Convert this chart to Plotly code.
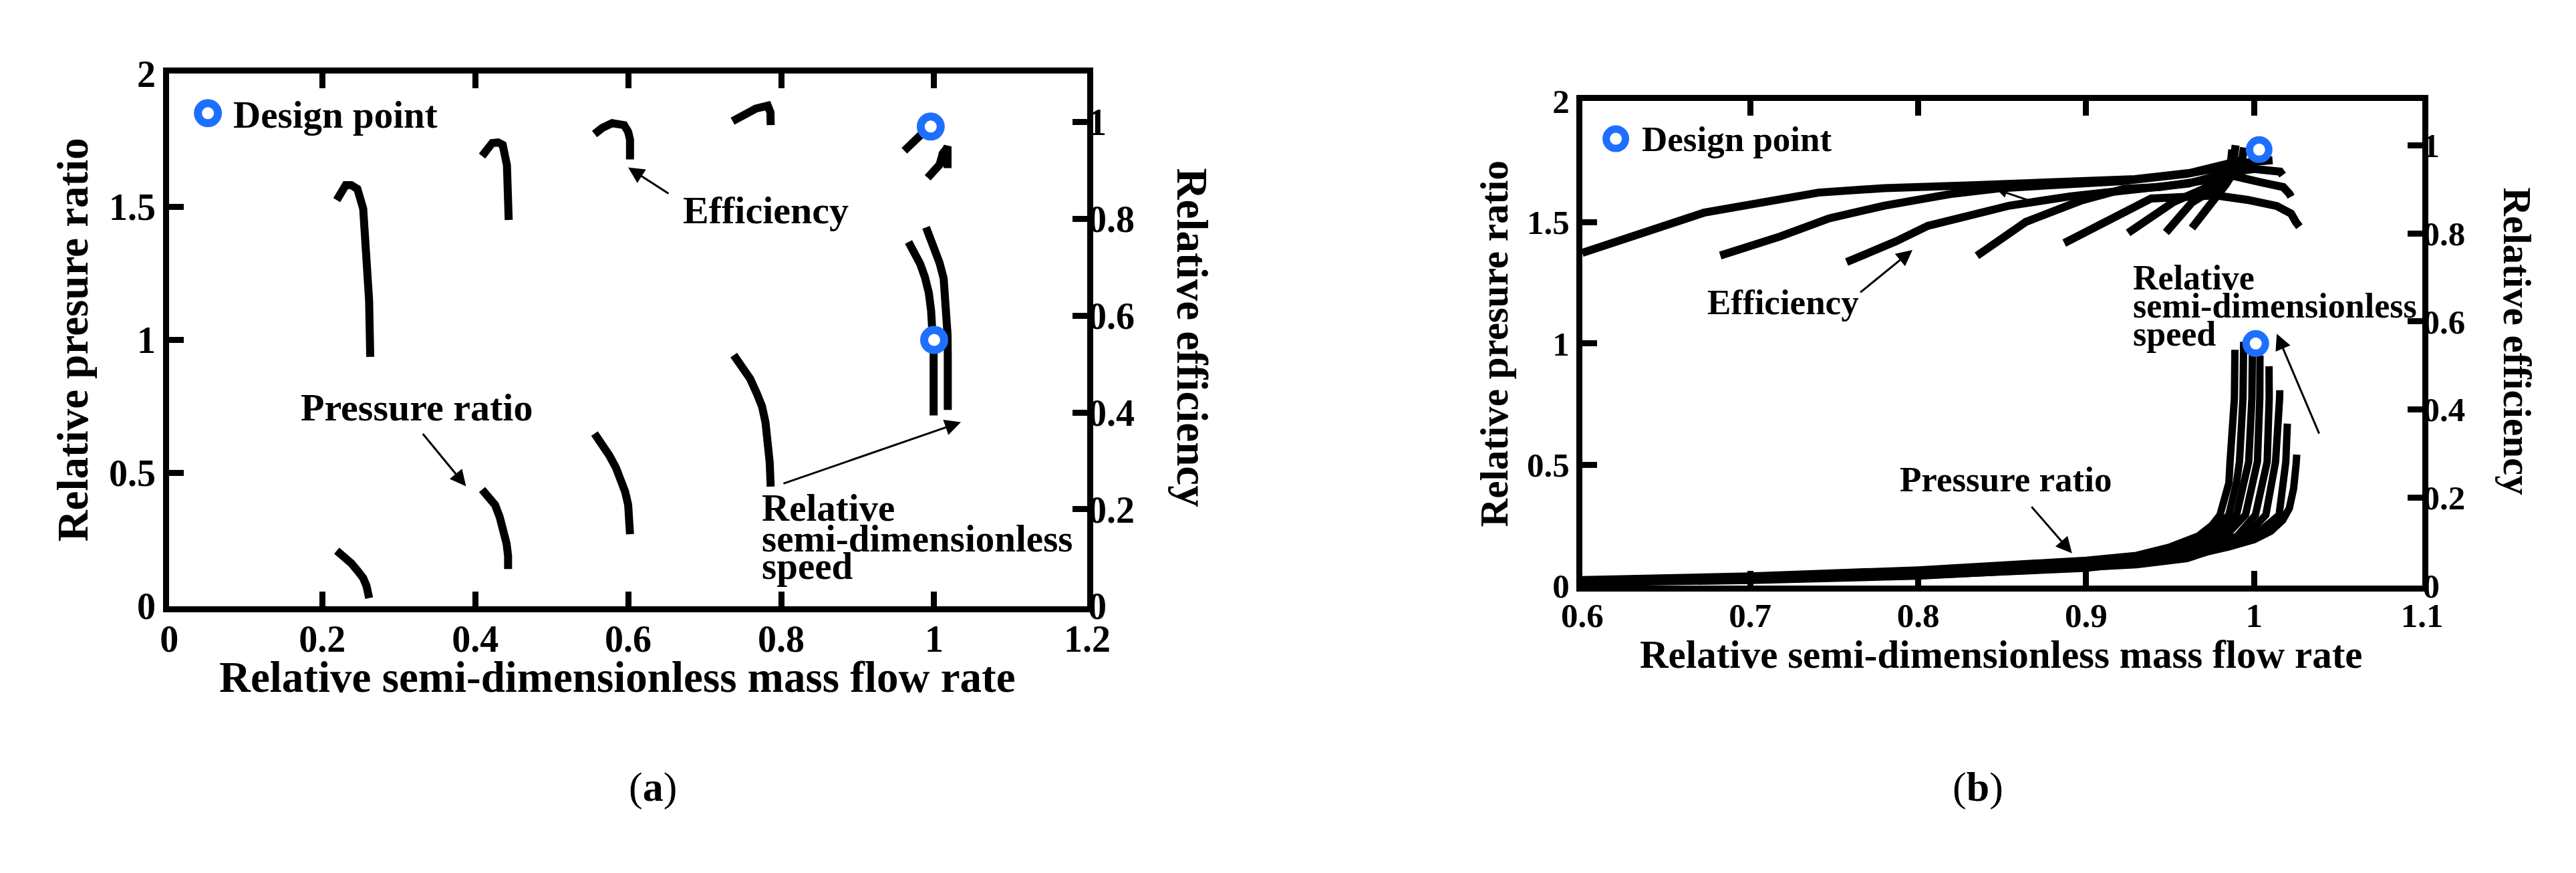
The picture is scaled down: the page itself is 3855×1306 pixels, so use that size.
import plotly.graph_objects as go

# ---------------- Panel (a) data ----------------
A_PR1_X = [0.219, 0.229, 0.2383, 0.247, 0.2536, 0.258, 0.2613]
A_PR1_Y = [0.208, 0.185, 0.160, 0.130, 0.105, 0.075, 0.030]
A_PR2_X = [0.409, 0.418, 0.426, 0.432, 0.4376, 0.441, 0.443, 0.443]
A_PR2_Y = [0.438, 0.410, 0.380, 0.335, 0.284, 0.235, 0.188, 0.139]
A_PR3_X = [0.556, 0.566, 0.5755, 0.584, 0.591, 0.596, 0.600, 0.6018, 0.6024]
A_PR3_Y = [0.648, 0.607, 0.565, 0.520, 0.476, 0.430, 0.380, 0.330, 0.270]
A_PR4_X = [0.738, 0.749, 0.7595, 0.768, 0.775, 0.7795, 0.7825, 0.785, 0.7863]
A_PR4_Y = [0.943, 0.900, 0.854, 0.800, 0.750, 0.690, 0.627, 0.540, 0.449]
A_PR5_X = [0.9665, 0.974, 0.9817, 0.988, 0.993, 0.996, 0.998, 0.9993, 0.9993, 0.9993]
A_PR5_Y = [1.368, 1.330, 1.286, 1.235, 1.177, 1.110, 1.039, 0.950, 0.874, 0.716]
A_PR6_X = [0.9894, 0.995, 1.0009, 1.007, 1.0124, 1.0163, 1.0175, 1.0178, 1.0178]
A_PR6_Y = [1.423, 1.385, 1.341, 1.290, 1.231, 1.108, 1.020, 0.943, 0.737]

A_EF1_X = [0.219, 0.226, 0.2307, 0.238, 0.246, 0.2536, 0.2575, 0.2613, 0.2628]
A_EF1_Y = [0.839, 0.862, 0.870, 0.870, 0.862, 0.821, 0.745, 0.632, 0.515]
A_EF2_X = [0.409, 0.415, 0.4223, 0.430, 0.436, 0.4415, 0.443, 0.4438]
A_EF2_Y = [0.930, 0.945, 0.957, 0.958, 0.953, 0.911, 0.860, 0.798]
A_EF3_X = [0.556, 0.566, 0.579, 0.5947, 0.600, 0.6024, 0.6024]
A_EF3_Y = [0.9755, 0.988, 0.998, 0.994, 0.980, 0.964, 0.923]
A_EF4_X = [0.7365, 0.750, 0.767, 0.7825, 0.786, 0.7863]
A_EF4_Y = [1.002, 1.014, 1.028, 1.034, 1.020, 0.994]
A_EF5_X = [0.961, 0.972, 0.985, 0.990]
A_EF5_Y = [0.941, 0.956, 0.975, 0.985]
A_EF6_X = [0.9915, 0.998, 1.003, 1.007, 1.0095, 1.011, 1.016, 1.0175, 1.0175]
A_EF6_Y = [0.885, 0.896, 0.905, 0.912, 0.925, 0.935, 0.945, 0.950, 0.905]

A_DESIGN_PR = (1.0, 1.0)
A_DESIGN_EF = (0.9955, 0.991)

A_X_TICKS = [0, 0.2, 0.4, 0.6, 0.8, 1.0, 1.2]
A_X_LABELS = ["0", "0.2", "0.4", "0.6", "0.8", "1", "1.2"]
A_Y_TICKS = [0, 0.5, 1.0, 1.5, 2.0]
A_Y_LABELS = ["0", "0.5", "1", "1.5", "2"]
A_Y2_TICKS = [0, 0.2, 0.4, 0.6, 0.8, 1.0]
A_Y2_LABELS = ["0", "0.2", "0.4", "0.6", "0.8", "1"]

# ---------------- Panel (b) data ----------------
B_PR_X = [
    [0.60, 0.70, 0.80, 0.90, 0.93, 0.95, 0.9668, 0.975, 0.9797, 0.985, 0.9857, 0.9883, 0.9886],
    [0.60, 0.70, 0.80, 0.90, 0.93, 0.95, 0.972, 0.985, 0.9895, 0.9913, 0.9934, 0.9938],
    [0.60, 0.70, 0.80, 0.90, 0.93, 0.96, 0.977, 0.9895, 0.9941, 0.9968, 0.9987, 0.999],
    [0.60, 0.70, 0.80, 0.90, 0.93, 0.96, 0.983, 0.9949, 0.9992, 1.002, 1.0034, 1.0035],
    [0.60, 0.70, 0.80, 0.90, 0.93, 0.96, 0.990, 1.0008, 1.0051, 1.0078, 1.009, 1.0089],
    [0.60, 0.70, 0.80, 0.90, 0.93, 0.96, 0.995, 1.007, 1.0109, 1.0128, 1.0152, 1.0153],
    [0.60, 0.70, 0.80, 0.90, 0.93, 0.96, 1.000, 1.0149, 1.0176, 1.0189, 1.0198],
    [0.60, 0.70, 0.80, 0.90, 0.93, 0.96, 0.985, 1.000, 1.010, 1.017, 1.021, 1.0235, 1.025, 1.0254],
]
B_PR_Y = [
    [0.025, 0.040, 0.065, 0.105, 0.125, 0.160, 0.205, 0.250, 0.292, 0.424, 0.512, 0.774, 0.974],
    [0.022, 0.037, 0.060, 0.098, 0.118, 0.145, 0.205, 0.292, 0.424, 0.512, 0.774, 1.007],
    [0.020, 0.034, 0.056, 0.092, 0.110, 0.150, 0.205, 0.292, 0.424, 0.512, 0.774, 0.990],
    [0.018, 0.031, 0.052, 0.087, 0.104, 0.140, 0.205, 0.292, 0.424, 0.512, 0.774, 0.950],
    [0.016, 0.028, 0.048, 0.082, 0.098, 0.130, 0.205, 0.292, 0.424, 0.512, 0.774, 0.906],
    [0.014, 0.025, 0.044, 0.077, 0.092, 0.120, 0.205, 0.292, 0.424, 0.512, 0.774, 0.807],
    [0.012, 0.022, 0.040, 0.072, 0.087, 0.112, 0.205, 0.292, 0.424, 0.512, 0.669],
    [0.012, 0.024, 0.042, 0.072, 0.095, 0.120, 0.160, 0.190, 0.225, 0.270, 0.320, 0.400, 0.500, 0.541],
]

B_EF_X = [
    [0.6, 0.6725, 0.7407, 0.7797, 0.8317, 0.8967, 0.9292, 0.9617, 0.9877, 0.989],
    [0.6822, 0.718, 0.747, 0.780, 0.819, 0.848, 0.874, 0.920, 0.960, 0.985, 0.998, 1.011],
    [0.7574, 0.787, 0.8057, 0.839, 0.8545, 0.891, 0.926, 0.961, 0.985, 1.000, 1.0155, 1.017],
    [0.835, 0.8642, 0.8967, 0.9227, 0.944, 0.970, 0.988, 1.005, 1.0173, 1.021, 1.022],
    [0.887, 0.9387, 0.977, 0.996, 1.0135, 1.022, 1.025, 1.027],
    [0.925, 0.952, 0.970, 0.979, 0.986, 0.987],
    [0.9475, 0.963, 0.979, 0.987, 0.993, 0.994],
    [0.963, 0.9757, 0.983, 0.988],
]
B_EF_Y = [
    [0.7555, 0.8468, 0.8925, 0.9025, 0.909, 0.9157, 0.923, 0.937, 0.961, 1.0],
    [0.7497, 0.793, 0.834, 0.863, 0.889, 0.902, 0.908, 0.918, 0.935, 0.955, 0.962, 0.966],
    [0.7347, 0.782, 0.817, 0.849, 0.863, 0.884, 0.898, 0.913, 0.938, 0.946, 0.940, 0.932],
    [0.749, 0.826, 0.874, 0.901, 0.905, 0.922, 0.930, 0.915, 0.905, 0.890, 0.883],
    [0.778, 0.879, 0.886, 0.876, 0.862, 0.845, 0.825, 0.815],
    [0.801, 0.871, 0.901, 0.925, 0.955, 0.990],
    [0.802, 0.870, 0.908, 0.940, 0.970, 0.995],
    [0.812, 0.870, 0.910, 0.940],
]

B_DESIGN_PR = (1.001, 1.0)
B_DESIGN_EF = (1.003, 0.990)

B_X_TICKS = [0.6, 0.7, 0.8, 0.9, 1.0, 1.1]
B_X_LABELS = ["0.6", "0.7", "0.8", "0.9", "1", "1.1"]
B_Y_TICKS = [0, 0.5, 1.0, 1.5, 2.0]
B_Y_LABELS = ["0", "0.5", "1", "1.5", "2"]
B_Y2_TICKS = [0, 0.2, 0.4, 0.6, 0.8, 1.0]
B_Y2_LABELS = ["0", "0.2", "0.4", "0.6", "0.8", "1"]

# ---------------- styling ----------------
W, H = 3855, 1306
FONT = "Liberation Serif"
BLUE = "#1f6fff"
BLACK = "#000000"
LW_A = 12
LW_B = 12


def px_x(p):
    return p / W


def px_y(p):
    return 1 - p / H


fig = go.Figure()

# panel (a) curves
for xs, ys in [(A_PR1_X, A_PR1_Y), (A_PR2_X, A_PR2_Y), (A_PR3_X, A_PR3_Y),
               (A_PR4_X, A_PR4_Y), (A_PR5_X, A_PR5_Y), (A_PR6_X, A_PR6_Y)]:
    fig.add_trace(go.Scatter(x=xs, y=ys, mode="lines", xaxis="x", yaxis="y",
                             line=dict(color=BLACK, width=LW_A), showlegend=False,
                             hoverinfo="skip"))
for xs, ys in [(A_EF1_X, A_EF1_Y), (A_EF2_X, A_EF2_Y), (A_EF3_X, A_EF3_Y),
               (A_EF4_X, A_EF4_Y), (A_EF5_X, A_EF5_Y), (A_EF6_X, A_EF6_Y)]:
    fig.add_trace(go.Scatter(x=xs, y=ys, mode="lines", xaxis="x", yaxis="y2",
                             line=dict(color=BLACK, width=LW_A), showlegend=False,
                             hoverinfo="skip"))

# panel (b) curves
for xs, ys in zip(B_PR_X, B_PR_Y):
    fig.add_trace(go.Scatter(x=xs, y=ys, mode="lines", xaxis="x2", yaxis="y3",
                             line=dict(color=BLACK, width=LW_B - 1), showlegend=False,
                             hoverinfo="skip"))
for xs, ys in zip(B_EF_X, B_EF_Y):
    fig.add_trace(go.Scatter(x=xs, y=ys, mode="lines", xaxis="x2", yaxis="y4",
                             line=dict(color=BLACK, width=LW_B), showlegend=False,
                             hoverinfo="skip"))

# design points
ring_a = dict(symbol="circle", size=30, color="white", line=dict(color=BLUE, width=12))
ring_b = dict(symbol="circle", size=29, color="white", line=dict(color=BLUE, width=11))
fig.add_trace(go.Scatter(x=[A_DESIGN_PR[0]], y=[A_DESIGN_PR[1]], mode="markers",
                         xaxis="x", yaxis="y", marker=ring_a, showlegend=False))
fig.add_trace(go.Scatter(x=[A_DESIGN_EF[0]], y=[A_DESIGN_EF[1]], mode="markers",
                         xaxis="x", yaxis="y2", marker=ring_a, showlegend=False))
fig.add_trace(go.Scatter(x=[B_DESIGN_PR[0]], y=[B_DESIGN_PR[1]], mode="markers",
                         xaxis="x2", yaxis="y3", marker=ring_b, showlegend=False))
fig.add_trace(go.Scatter(x=[B_DESIGN_EF[0]], y=[B_DESIGN_EF[1]], mode="markers",
                         xaxis="x2", yaxis="y4", marker=ring_b, showlegend=False))


def axis_common(fs):
    return dict(showgrid=False, zeroline=False, ticks="inside", ticklen=22,
                tickwidth=9, tickcolor=BLACK, linecolor=BLACK, linewidth=9,
                tickfont=dict(family=FONT, size=fs, color=BLACK, weight="bold"))


def yaxis2_common(fs):
    d = axis_common(fs)
    d.pop("linewidth")
    return d


FA, FB = 56, 51

fig.update_layout(
    width=W, height=H, margin=dict(l=0, r=0, t=0, b=0),
    paper_bgcolor="white", plot_bgcolor="white", showlegend=False,
    xaxis=dict(domain=[px_x(217), px_x(1615)], range=[0, 1.2], anchor="y",
               tickvals=A_X_TICKS, ticktext=A_X_LABELS, mirror="ticks", showline=True,
               ticklabelstandoff=-8, **axis_common(FA)),
    yaxis=dict(domain=[px_y(912), px_y(76)], range=[0, 2], anchor="x",
               tickvals=A_Y_TICKS, ticktext=A_Y_LABELS, mirror=True, showline=True,
               **axis_common(FA)),
    yaxis2=dict(range=[0, 1.1], overlaying="y", side="right", anchor="x",
                tickvals=A_Y2_TICKS, ticktext=A_Y2_LABELS, showline=False,
                **yaxis2_common(FA)),
    xaxis2=dict(domain=[px_x(2369), px_x(3648)], range=[0.6, 1.1], anchor="y3",
                tickvals=B_X_TICKS, ticktext=B_X_LABELS, mirror="ticks", showline=True,
                ticklabelstandoff=-8, **axis_common(FB)),
    yaxis3=dict(domain=[px_y(880), px_y(119)], range=[0, 2], anchor="x2",
                tickvals=B_Y_TICKS, ticktext=B_Y_LABELS, mirror=True, showline=True,
                **axis_common(FB)),
    yaxis4=dict(range=[0, 1.1], overlaying="y3", side="right", anchor="x2",
                tickvals=B_Y2_TICKS, ticktext=B_Y2_LABELS, showline=False,
                **yaxis2_common(FB)),
)

ann = []


def txt(text, x, y, size, xref="paper", yref="paper", xanchor="center",
        yanchor="middle", angle=0, bold=True):
    ann.append(dict(text=text, x=x, y=y, xref=xref, yref=yref, xanchor=xanchor,
                    yanchor=yanchor, textangle=angle, showarrow=False,
                    font=dict(family=FONT, size=size, color=BLACK,
                              weight="bold" if bold else "normal")))


def arrow(x, y, ax, ay, xref, yref, size=1.6, head=2):
    ann.append(dict(text="", x=x, y=y, ax=ax, ay=ay, xref=xref, yref=yref,
                    axref=xref, ayref=yref, showarrow=True, arrowhead=head,
                    arrowsize=size, arrowwidth=3, arrowcolor=BLACK))


# axis titles (a)
txt("Relative semi-dimensionless mass flow rate", px_x(900), px_y(1024), 65)
txt("Relative presure ratio", px_x(70), px_y(494), 65, angle=-90)
txt("Relative efficiency", px_x(1775), px_y(490), 65, angle=90)
# axis titles (b)
txt("Relative semi-dimensionless mass flow rate", px_x(3007), px_y(988), 59)
txt("Relative presure ratio", px_x(2235), px_y(500), 59, angle=-90)
txt("Relative efficiency", px_x(3792), px_y(496), 59, angle=90)

# captions
ann.append(dict(text="(<b>a</b>)", x=px_x(915), y=px_y(1235), xref="paper", yref="paper",
                showarrow=False, font=dict(family=FONT, size=62, color=BLACK)))
ann.append(dict(text="(<b>b</b>)", x=px_x(3012), y=px_y(1235), xref="paper", yref="paper",
                showarrow=False, font=dict(family=FONT, size=62, color=BLACK)))

# legends ("Design point")
txt("Design point", 0.0815, 1.847, 57, xref="x", yref="y", xanchor="left")
txt("Design point", 0.6346, 1.845, 53, xref="x2", yref="y3", xanchor="left")
shapes = [
    dict(type="circle", xref="x", yref="y", xsizemode="pixel", ysizemode="pixel",
         xanchor=0.0506, yanchor=1.852, x0=-15, x1=15, y0=-15, y1=15,
         line=dict(color=BLUE, width=12), fillcolor="white"),
    dict(type="circle", xref="x2", yref="y3", xsizemode="pixel", ysizemode="pixel",
         xanchor=0.62, yanchor=1.845, x0=-14.5, x1=14.5, y0=-14.5, y1=14.5,
         line=dict(color=BLUE, width=11), fillcolor="white"),
]

# annotations (a)
txt("Efficiency", 0.6695, 1.488, 58, xref="x", yref="y", xanchor="left")
arrow(0.600, 1.648, 0.654, 1.548, "x", "y")
txt("Pressure ratio", 0.170, 0.746, 58, xref="x", yref="y", xanchor="left")
arrow(0.388, 0.450, 0.3305, 0.651, "x", "y")
txt("Relative", 0.7725, 0.370, 57, xref="x", yref="y", xanchor="left")
txt("semi-dimensionless", 0.7725, 0.254, 57, xref="x", yref="y", xanchor="left")
txt("speed", 0.7725, 0.152, 57, xref="x", yref="y", xanchor="left")
arrow(1.035, 0.691, 0.8017, 0.459, "x", "y")

# annotations (b)
txt("Efficiency", 0.6735, 1.17, 53, xref="x2", yref="y3", xanchor="left")
arrow(0.7966, 1.386, 0.765, 1.2076, "x2", "y3")
txt("Relative", 0.927, 1.272, 52, xref="x2", yref="y3", xanchor="left")
txt("semi-dimensionless", 0.927, 1.154, 52, xref="x2", yref="y3", xanchor="left")
txt("speed", 0.927, 1.040, 52, xref="x2", yref="y3", xanchor="left")
arrow(1.0135, 1.04, 1.039, 0.624, "x2", "y3")
txt("Pressure ratio", 0.7884, 0.439, 53, xref="x2", yref="y3", xanchor="left")
arrow(0.8916, 0.134, 0.867, 0.33, "x2", "y3")
arrow(0.8469, 1.635, 0.8695, 1.582, "x2", "y3", size=1.0)

fig.update_layout(annotations=ann, shapes=shapes)

fig.write_html("out.html")
